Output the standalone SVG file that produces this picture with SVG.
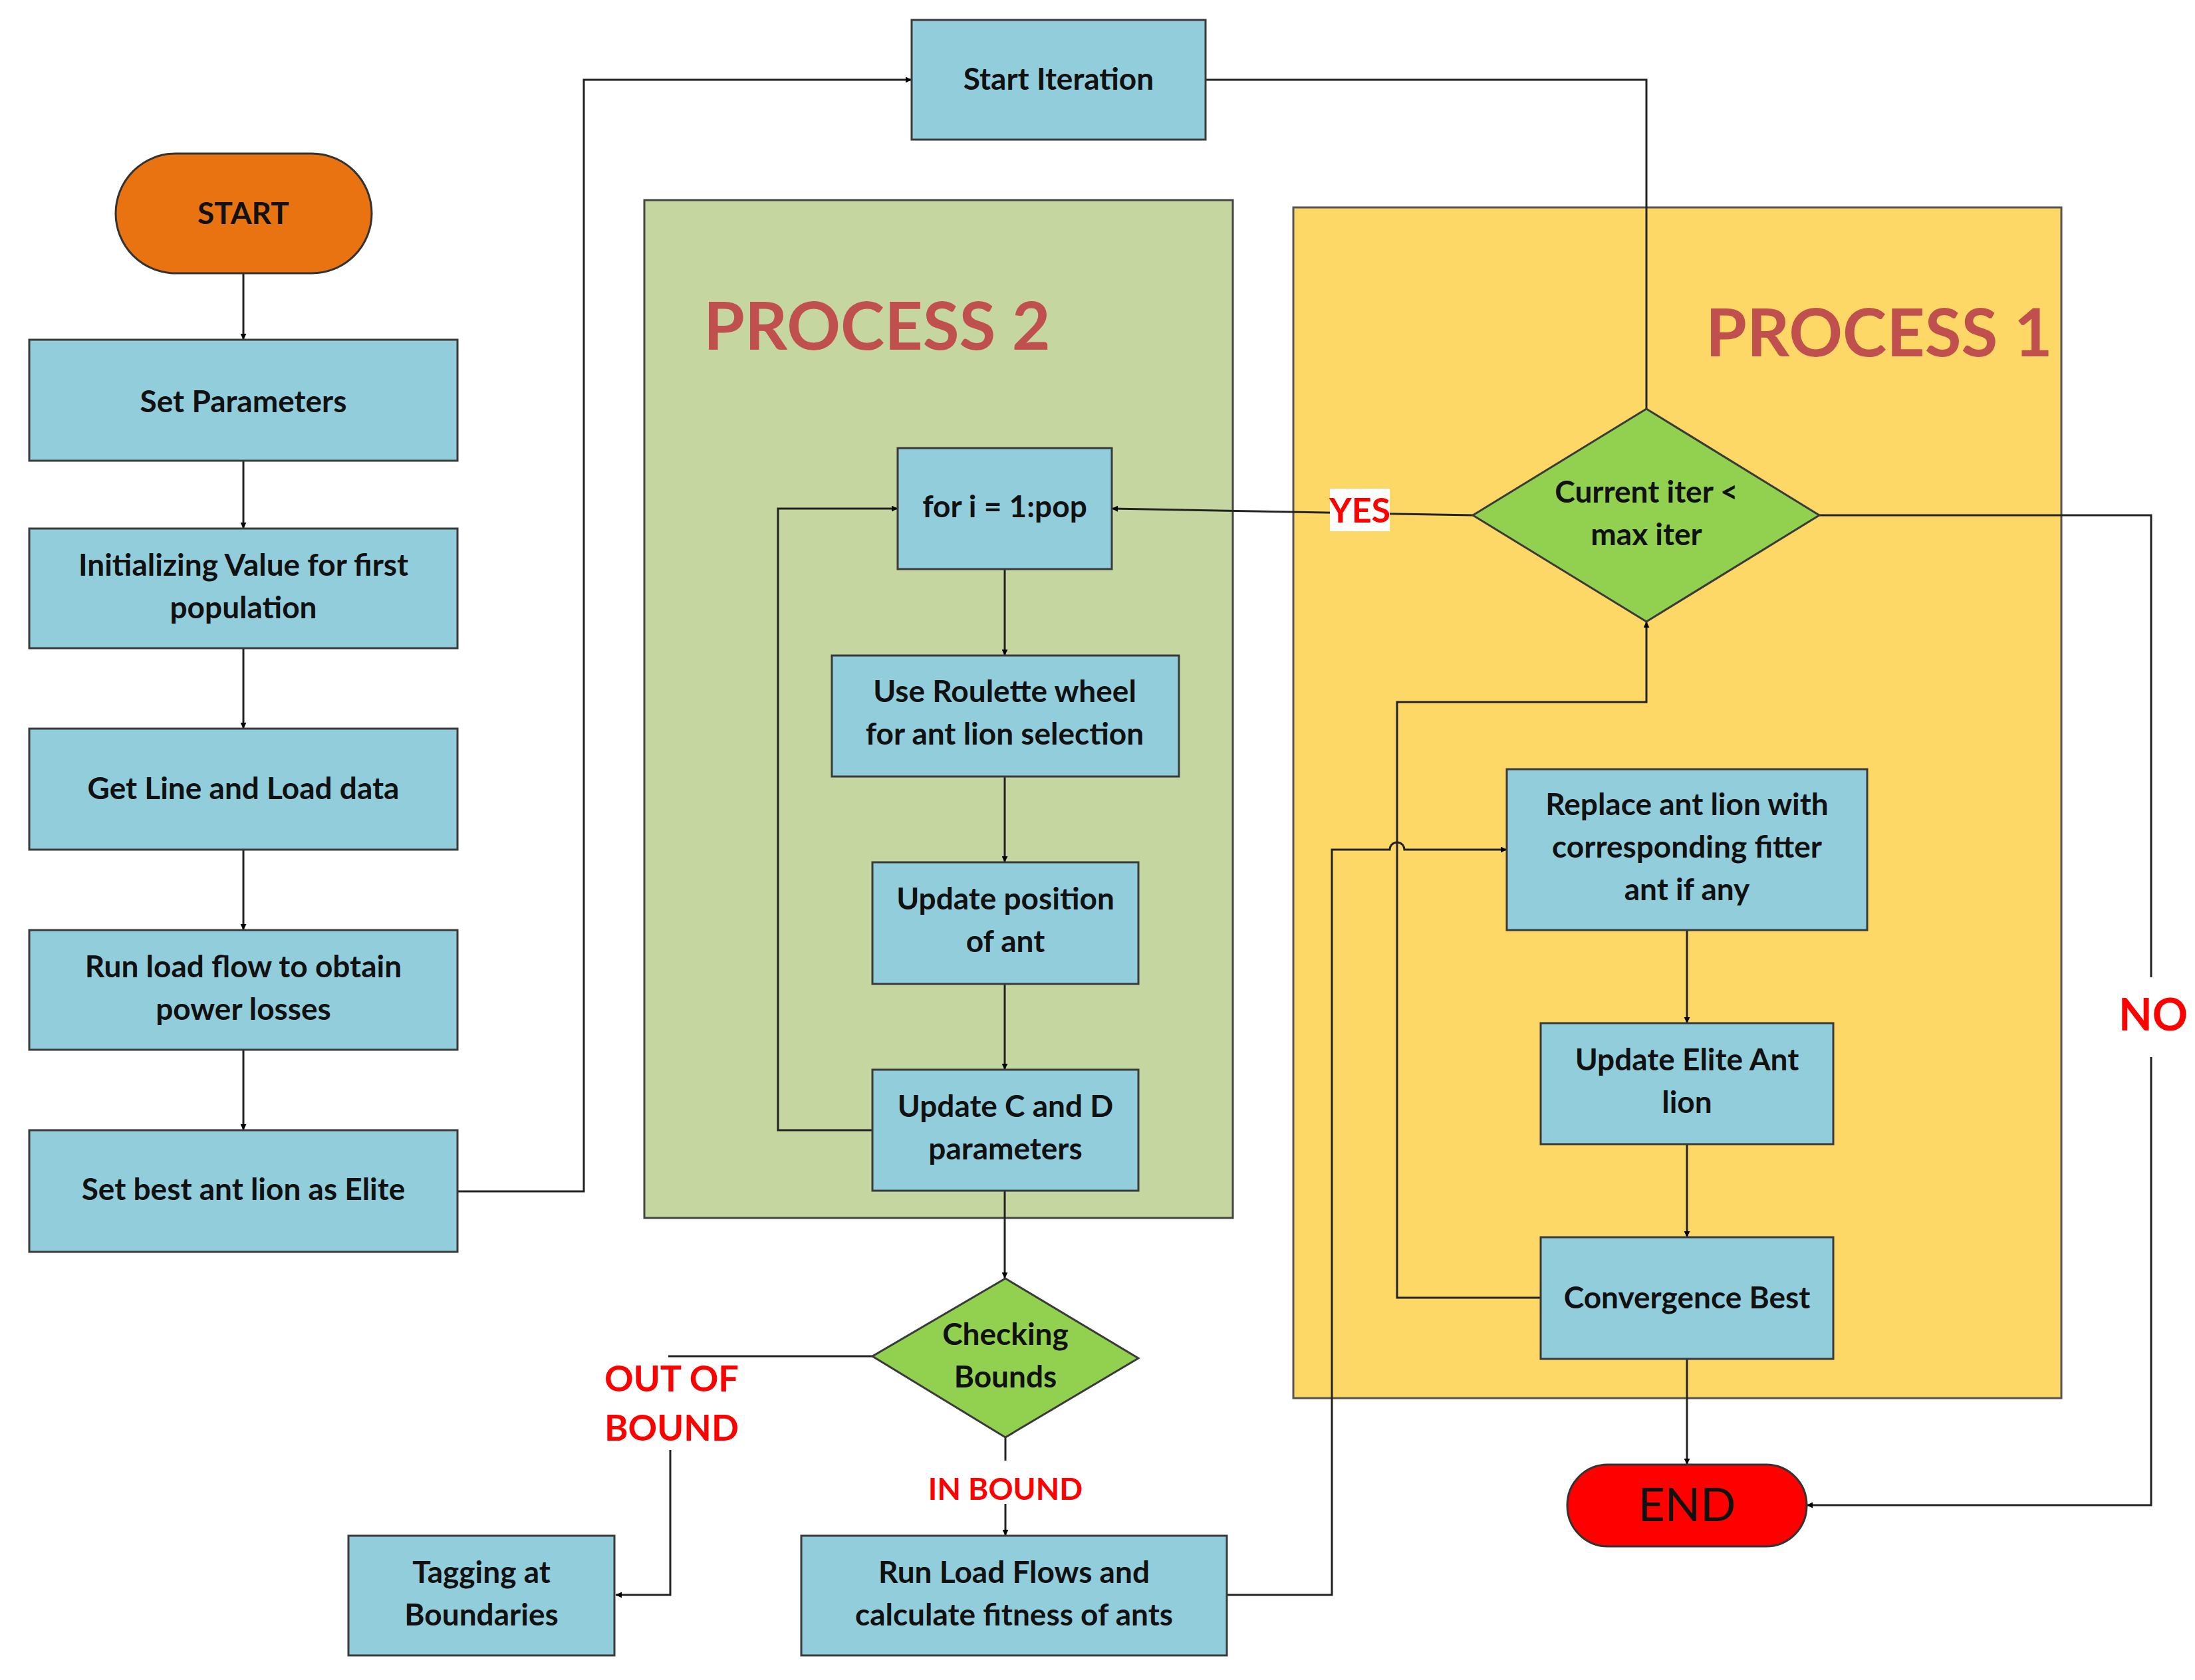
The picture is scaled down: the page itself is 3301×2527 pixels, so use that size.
<svg xmlns="http://www.w3.org/2000/svg" width="3301" height="2527" viewBox="0 0 3301 2527">
<style>
.box{fill:#92CDDC;stroke:#3a3a3a;stroke-width:3}
.dia{fill:#92D050;stroke:#3a3a3a;stroke-width:3}
.t{font-family:Lato,"Liberation Sans",sans-serif;font-weight:bold;font-size:46px;fill:#111;text-anchor:middle}
.red{font-family:Lato,"Liberation Sans",sans-serif;font-weight:bold;fill:#FF0000;text-anchor:middle}
.proc{font-family:Lato,"Liberation Sans",sans-serif;font-weight:bold;font-size:100px;fill:#C0504D}
.c{fill:none;stroke:#222;stroke-width:3}
</style>
<defs>
<marker id="a" viewBox="0 0 10 10" refX="10" refY="5" markerWidth="9" markerHeight="9" markerUnits="userSpaceOnUse" orient="auto"><path d="M0,0 L10,5 L0,10 z" fill="#000"/></marker>
</defs>
<rect width="3301" height="2527" fill="#fff"/>
<g id="process2"><rect x="969" y="301" width="885" height="1531" fill="#C5D6A0" stroke="#444" stroke-width="3"/><text class="proc" x="1058" y="526">PROCESS 2</text></g>
<g id="process1"><rect x="1945" y="312" width="1155" height="1791" fill="#FDD866" stroke="#555" stroke-width="3"/><text class="proc" x="2565" y="536">PROCESS 1</text></g>
<g id="connectors">
<path class="c" d="M366,411 V511" marker-end="url(#a)"/>
<path class="c" d="M366,693 V795" marker-end="url(#a)"/>
<path class="c" d="M366,975 V1096" marker-end="url(#a)"/>
<path class="c" d="M366,1278 V1399" marker-end="url(#a)"/>
<path class="c" d="M366,1579 V1700" marker-end="url(#a)"/>
<path class="c" d="M688,1792 H878 V120 H1371" marker-end="url(#a)"/>
<path class="c" d="M1813,120 H2476 V615"/>
<path class="c" d="M2215,775 L1672,765" marker-end="url(#a)"/>
<path class="c" d="M1511,856 V986" marker-end="url(#a)"/>
<path class="c" d="M1511,1168 V1297" marker-end="url(#a)"/>
<path class="c" d="M1511,1480 V1609" marker-end="url(#a)"/>
<path class="c" d="M1312,1700 H1170 V765 H1350" marker-end="url(#a)"/>
<path class="c" d="M1511,1791 V1923" marker-end="url(#a)"/>
<path class="c" d="M1312,2040 H1005"/>
<path class="c" d="M1008,2181 V2399 H926" marker-end="url(#a)"/>
<path class="c" d="M1512,2162 V2197"/>
<path class="c" d="M1512,2262 V2310" marker-end="url(#a)"/>
<path class="c" d="M1845,2399 H2003 V1278 H2090 A11,11 0 0 1 2112,1278 H2266" marker-end="url(#a)"/>
<path class="c" d="M2317,1952 H2101 V1056 H2476 V935" marker-end="url(#a)"/>
<path class="c" d="M2537,1399 V1539" marker-end="url(#a)"/>
<path class="c" d="M2537,1721 V1861" marker-end="url(#a)"/>
<path class="c" d="M2537,2044 V2203" marker-end="url(#a)"/>
<path class="c" d="M2736,775 H3235 V1470 M3235,1590 V2264 H2717" marker-end="url(#a)"/>
<rect x="2000" y="735" width="90" height="64" fill="#fff"/>
<text class="red" x="2045" y="786" font-size="52">YES</text>
<text class="red" x="3238" y="1550" font-size="66">NO</text>
<text class="red" x="1010" y="2093" font-size="54">OUT OF</text>
<text class="red" x="1010" y="2167" font-size="54">BOUND</text>
<text class="red" x="1512" y="2256" font-size="46">IN BOUND</text>
</g>
<g id="start"><rect x="174" y="231" width="385" height="180" rx="90" fill="#E97311" stroke="#333" stroke-width="3"/><text class="t" x="366" y="337">START</text></g>
<g id="setparams"><rect class="box" x="44" y="511" width="644" height="182"/><text class="t" x="366" y="620" font-size="54">Set Parameters</text></g>
<g id="init"><rect class="box" x="44" y="795" width="644" height="180"/><text class="t" x="366" y="866">Initializing Value for first</text><text class="t" x="366" y="930">population</text></g>
<g id="getline"><rect class="box" x="44" y="1096" width="644" height="182"/><text class="t" x="366" y="1202">Get Line and Load data</text></g>
<g id="runload"><rect class="box" x="44" y="1399" width="644" height="180"/><text class="t" x="366" y="1470">Run load flow to obtain</text><text class="t" x="366" y="1534">power losses</text></g>
<g id="setbest"><rect class="box" x="44" y="1700" width="644" height="183"/><text class="t" x="366" y="1805">Set best ant lion as Elite</text></g>
<g id="startiter"><rect class="box" x="1371" y="30" width="442" height="180"/><text class="t" x="1592" y="135">Start Iteration</text></g>
<g id="fori"><rect class="box" x="1350" y="674" width="322" height="182"/><text class="t" x="1511" y="778">for i = 1:pop</text></g>
<g id="roulette"><rect class="box" x="1251" y="986" width="522" height="182"/><text class="t" x="1511" y="1056">Use Roulette wheel</text><text class="t" x="1511" y="1120">for ant lion selection</text></g>
<g id="updpos"><rect class="box" x="1312" y="1297" width="400" height="183"/><text class="t" x="1512" y="1368">Update position</text><text class="t" x="1512" y="1432">of ant</text></g>
<g id="updcd"><rect class="box" x="1312" y="1609" width="400" height="182"/><text class="t" x="1512" y="1680">Update C and D</text><text class="t" x="1512" y="1744">parameters</text></g>
<g id="checking"><polygon class="dia" points="1512,1923 1712,2043 1512,2162 1312,2040"/><text class="t" x="1512" y="2023">Checking</text><text class="t" x="1512" y="2087">Bounds</text></g>
<g id="tagging"><rect class="box" x="524" y="2310" width="400" height="180"/><text class="t" x="724" y="2381">Tagging at</text><text class="t" x="724" y="2445">Boundaries</text></g>
<g id="runflows"><rect class="box" x="1205" y="2310" width="640" height="180"/><text class="t" x="1525" y="2381">Run Load Flows and</text><text class="t" x="1525" y="2445">calculate fitness of ants</text></g>
<g id="current"><polygon class="dia" points="2476,615 2736,775 2476,935 2215,775"/><text class="t" x="2476" y="756">Current iter &lt;</text><text class="t" x="2476" y="820">max iter</text></g>
<g id="replace"><rect class="box" x="2266" y="1157" width="542" height="242"/><text class="t" x="2537" y="1226">Replace ant lion with</text><text class="t" x="2537" y="1290">corresponding fitter</text><text class="t" x="2537" y="1354">ant if any</text></g>
<g id="elite"><rect class="box" x="2317" y="1539" width="440" height="182"/><text class="t" x="2537" y="1610">Update Elite Ant</text><text class="t" x="2537" y="1674">lion</text></g>
<g id="convergence"><rect class="box" x="2317" y="1861" width="440" height="183"/><text class="t" x="2537" y="1968">Convergence Best</text></g>
<g id="end"><rect x="2357" y="2203" width="360" height="123" rx="61" fill="#FF0000" stroke="#333" stroke-width="3"/><text x="2537" y="2288" font-family="Lato,'Liberation Sans',sans-serif" font-size="70" fill="#111" text-anchor="middle">END</text></g>
</svg>
